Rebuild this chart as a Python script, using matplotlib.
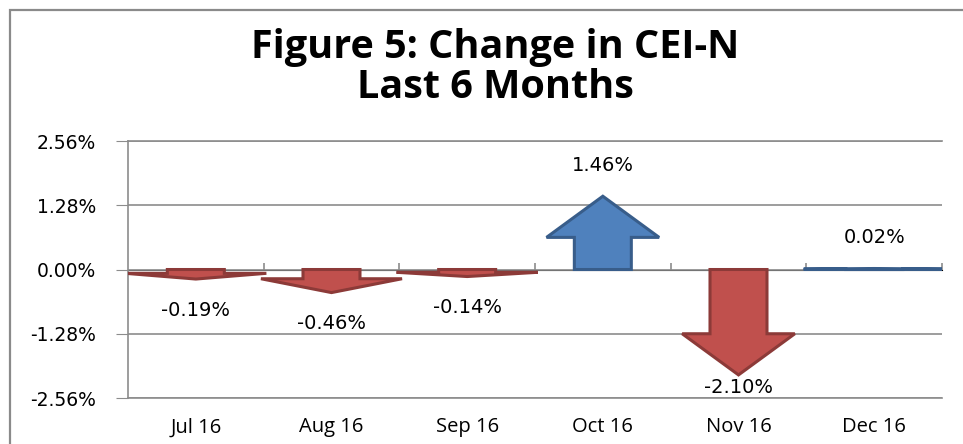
import matplotlib.pyplot as plt
from matplotlib.patches import Polygon, Rectangle

months = ["Jul 16", "Aug 16", "Sep 16", "Oct 16", "Nov 16", "Dec 16"]
changes = [-0.19, -0.46, -0.14, 1.46, -2.10, 0.02]
y_ticks = [-2.56, -1.28, 0.00, 1.28, 2.56]
title = "Figure 5: Change in CEI-N\nLast 6 Months"

UP_FILL, UP_EDGE = "#4F81BD", "#385D8A"
DOWN_FILL, DOWN_EDGE = "#C0504D", "#8C3A38"
GRID = "#8C8C8C"
NUM_FONT = "DejaVu Sans"


def arrow_points(x, v):
    """Block arrow from 0 to v, centred on category x (data units)."""
    shaft = 0.21
    half_head = 0.415 if abs(v) > 1 else 0.52
    head = min(0.82, 0.6 * abs(v))
    s = 1 if v >= 0 else -1
    base = v - s * head
    return [
        (x - shaft, 0), (x - shaft, base), (x - half_head, base), (x, v),
        (x + half_head, base), (x + shaft, base), (x + shaft, 0),
    ]


fig = plt.figure(figsize=(9.63, 4.44), dpi=100)
ax = fig.add_axes([0.1329, 0.1036, 0.8453, 0.5788])

ax.set_xlim(-0.5, len(months) - 0.5)
ax.set_ylim(y_ticks[0], y_ticks[-1])

for i, v in enumerate(changes):
    up = v >= 0
    ax.add_patch(Polygon(
        arrow_points(i, v), closed=True,
        facecolor=UP_FILL if up else DOWN_FILL,
        edgecolor=UP_EDGE if up else DOWN_EDGE,
        linewidth=2.2, joinstyle="miter", zorder=3,
    ))
    off = 0.62
    ly = v + off if up else max(v - off, y_ticks[0] + 0.21)
    ax.text(i, ly, f"{v:.2f}%", ha="center", va="center",
            fontsize=14, family=NUM_FONT, color="black", zorder=4)

# y axis
ax.set_yticks(y_ticks)
ax.set_yticklabels([f"{t:.2f}%" for t in y_ticks], fontsize=13.5, family=NUM_FONT)
ax.tick_params(axis="y", direction="out", length=9, color=GRID, pad=14)
ax.yaxis.grid(True, color=GRID, linewidth=1.2)
ax.set_axisbelow(True)

# category labels at the bottom
ax.set_xticks(range(len(months)))
ax.set_xticklabels(months, fontsize=14.5, family="Open Sans")
ax.tick_params(axis="x", length=0, pad=14)

for side in ["top", "bottom", "right"]:
    ax.spines[side].set_visible(False)
ax.spines["left"].set_color(GRID)
ax.spines["left"].set_linewidth(1.2)
for y in (y_ticks[0], y_ticks[-1]):
    ax.axhline(y, color=GRID, linewidth=1.2, clip_on=False, zorder=1)

# category axis crossing at zero with boundary ticks
zero_ax = ax.secondary_xaxis(0.5)
zero_ax.set_xticks([i + 0.5 for i in range(len(months))])
zero_ax.set_xticklabels([])
zero_ax.tick_params(direction="out", length=5, color=GRID, width=1.2)
zero_ax.spines["bottom"].set_color(GRID)
zero_ax.spines["bottom"].set_linewidth(1.2)

fig.text(0.514, 0.848, title, ha="center", va="center", fontsize=28.5,
         fontweight="bold", family="Open Sans", linespacing=1.05)

fig.add_artist(Rectangle((0.0104, -0.05), 1.1, 0.0275 + 1.0,
                         transform=fig.transFigure, fill=False,
                         edgecolor="#8A8A8A", linewidth=1.6))

fig.savefig("out.png", dpi=100)
